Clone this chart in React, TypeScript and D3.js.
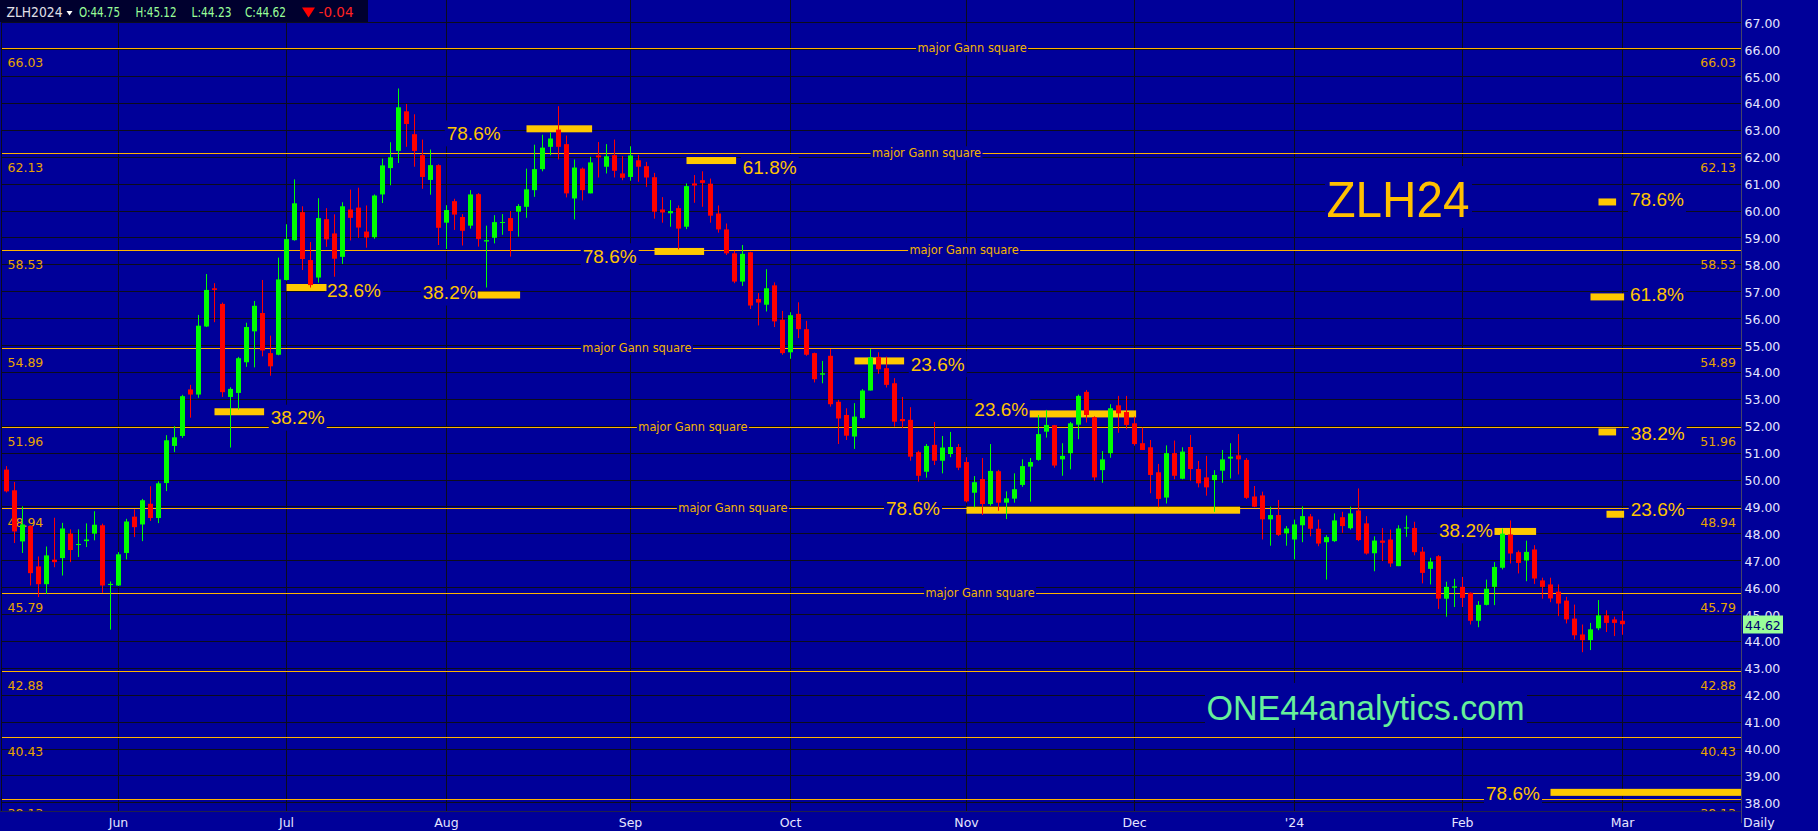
import React, { useEffect } from 'react';
import * as d3 from 'd3';

const W = 1818;
const H = 831;

// ---- OHLC data (one entry per trading day, May 11 2023 .. Mar 1 2024) ----
const opens = [50.37,49.60,47.70,48.27,46.77,46.11,47.02,47.08,47.99,47.59,47.71,47.99,48.30,46.08,46.06,47.27,48.62,48.33,49.10,48.57,
49.87,51.25,51.62,53.35,53.16,55.69,57.11,56.53,53.07,53.22,54.36,55.51,56.19,54.70,54.64,57.42,58.90,59.94,58.16,57.51,
59.68,59.15,58.28,60.04,60.11,59.22,59.01,60.60,61.58,62.22,63.69,62.84,62.06,61.14,61.69,59.55,60.35,59.76,59.44,60.61,
58.85,58.99,59.55,59.72,59.96,60.14,60.76,61.54,62.37,63.01,62.47,60.45,61.56,60.64,62.05,61.63,62.06,61.38,61.25,61.87,
61.65,61.24,60.04,59.90,60.09,59.40,61.01,61.13,61.00,59.89,59.30,58.41,57.36,58.45,56.71,56.50,57.22,55.94,54.73,56.16,
55.59,54.70,53.90,54.60,52.89,52.40,51.60,52.29,53.31,54.56,54.14,53.58,52.25,52.22,51.02,50.29,51.29,50.70,50.95,51.21,
50.65,49.51,50.02,49.09,50.31,49.14,49.29,49.80,50.48,50.73,51.78,52.02,50.75,50.98,52.04,53.26,52.32,50.35,50.98,52.76,
52.51,52.09,51.35,51.20,50.27,49.33,50.98,50.03,51.21,50.39,50.08,49.98,50.33,50.78,50.90,50.73,49.37,49.41,48.52,48.68,
48.00,47.77,48.30,48.63,48.17,47.67,47.71,48.60,48.19,48.85,48.37,47.26,47.73,47.77,46.78,48.18,48.20,47.32,46.68,47.15,
45.57,45.98,46.01,45.79,44.75,45.34,46.01,46.72,47.96,47.30,46.99,47.40,46.25,46.10,45.83,45.50,44.83,44.24,44.03,44.47,
44.95,44.80,44.75];
const highs = [50.50,49.91,49.00,48.30,47.14,47.51,48.58,48.39,48.15,48.15,48.37,48.82,48.36,46.21,47.30,48.54,48.89,49.28,49.75,49.93,
51.65,51.98,53.15,53.52,56.12,57.64,57.30,56.58,53.43,54.56,55.83,56.64,57.42,55.35,58.25,59.49,61.16,60.16,58.83,60.46,
60.09,59.86,60.31,60.78,60.85,60.19,60.60,61.93,62.54,64.54,63.96,63.58,62.64,62.27,61.72,60.20,60.44,59.87,60.76,60.65,
59.44,59.83,59.87,59.98,60.24,61.56,62.45,62.82,62.90,63.88,62.79,61.90,61.60,62.00,62.55,62.47,62.64,62.03,62.39,62.06,
61.81,61.40,60.50,60.39,60.19,61.01,61.32,61.46,61.19,60.19,59.52,58.51,58.72,58.47,56.93,57.82,57.33,56.27,56.22,56.59,
55.90,54.72,54.41,54.85,52.96,52.65,52.84,53.36,54.85,54.73,54.57,53.77,53.07,52.69,51.07,51.32,52.14,51.62,51.77,51.32,
50.83,50.13,50.80,51.32,50.36,49.56,50.23,50.75,50.80,52.40,52.59,52.03,51.35,52.14,53.16,53.33,52.35,51.06,52.80,53.11,
53.11,52.34,51.93,51.47,50.58,51.27,51.45,51.20,51.66,50.69,50.88,50.35,51.10,51.35,51.69,50.80,49.76,49.55,48.99,49.24,
48.27,48.51,49.00,48.72,48.51,47.93,48.74,48.80,48.99,49.67,48.64,47.89,48.20,48.14,48.30,48.66,48.43,47.49,47.09,47.19,
46.20,46.31,46.38,45.80,45.48,46.28,46.93,48.18,48.48,47.36,47.73,47.56,46.35,46.35,46.10,45.64,45.35,44.61,44.67,45.52,
45.14,44.90,45.12];
const lows = [49.52,47.64,47.27,46.06,45.63,45.75,46.74,46.43,46.93,47.12,47.49,47.74,45.79,44.42,46.04,47.03,47.86,47.71,48.46,48.38,
49.57,51.02,51.55,52.30,53.04,55.67,55.85,53.07,51.19,52.60,54.19,54.17,54.58,53.86,54.62,57.40,58.88,57.79,57.14,57.32,
58.65,57.54,58.02,58.89,58.99,58.62,58.95,60.28,60.94,61.77,62.37,61.63,60.81,60.59,58.72,58.57,59.28,58.70,59.33,58.66,
57.14,58.78,59.10,58.29,59.03,59.73,60.51,61.46,62.06,61.90,60.49,59.67,60.38,60.64,61.23,61.38,61.23,61.13,61.11,61.07,
60.88,59.70,59.55,59.40,58.56,59.31,60.29,60.14,59.55,59.18,58.35,57.30,57.20,56.34,55.73,56.25,55.67,54.64,54.49,55.26,
54.60,53.61,53.58,52.71,51.32,51.47,51.14,52.27,53.31,53.93,53.42,51.97,51.91,50.70,49.92,50.07,50.54,50.23,50.83,50.35,
49.15,48.97,48.68,49.03,48.84,48.53,49.14,49.73,49.18,50.70,51.56,50.44,50.14,50.38,51.50,52.12,49.96,49.88,50.81,51.74,
51.87,51.26,51.10,49.49,48.97,49.11,50.01,50.01,49.96,49.71,49.40,48.80,49.88,50.04,50.19,49.28,48.97,47.77,47.54,47.90,
47.54,47.03,47.67,47.89,47.52,46.28,47.68,48.02,48.14,47.71,47.21,46.59,46.97,46.75,46.78,47.87,47.18,46.14,46.10,45.19,
44.90,45.26,45.26,44.61,44.51,45.32,45.33,46.66,46.88,46.51,46.22,46.12,45.57,45.44,44.92,44.65,44.05,43.58,43.66,44.40,
44.33,44.18,44.23];
const closes = [49.56,48.07,48.33,46.52,46.11,47.18,46.93,48.18,47.38,47.62,47.77,48.32,46.06,46.12,47.22,48.44,48.23,49.23,48.57,49.86,
51.46,51.57,53.10,53.16,55.72,57.05,57.05,53.25,53.37,54.51,55.67,56.46,54.80,54.21,57.44,58.94,60.27,58.20,57.23,59.72,
58.93,58.21,60.16,59.73,59.37,59.00,60.56,61.68,61.98,63.84,63.22,62.22,61.25,61.69,59.36,60.02,59.85,59.25,60.60,58.94,
58.90,59.57,59.58,59.24,60.17,60.79,61.54,62.34,62.68,62.37,60.64,61.60,60.76,61.79,61.98,62.02,61.48,61.22,62.05,61.63,
61.23,59.96,59.93,59.98,59.33,60.91,60.93,61.03,59.81,59.30,58.41,57.36,58.39,56.47,56.58,57.11,55.88,54.70,56.11,55.59,
54.64,53.73,53.95,52.80,52.27,51.63,52.34,53.31,54.54,54.10,53.52,52.15,52.17,50.85,50.14,51.25,50.70,51.19,51.21,50.44,
49.19,49.90,49.09,50.32,49.14,49.30,49.64,50.50,50.65,51.69,52.03,50.52,50.88,52.09,53.11,52.40,50.08,50.75,52.65,52.46,
52.03,51.32,51.10,50.17,49.28,50.98,50.14,51.04,50.39,49.86,49.71,50.17,50.75,50.85,50.75,49.32,48.99,48.52,48.68,47.94,
48.18,48.33,48.64,48.17,47.62,47.86,48.48,48.27,48.74,47.75,47.25,47.73,47.65,46.88,48.18,48.22,47.30,46.53,46.95,45.57,
46.01,46.03,45.60,44.75,45.34,45.94,46.75,47.99,47.25,46.90,47.31,46.32,46.01,45.58,45.39,44.80,44.21,44.03,44.43,44.95,
44.67,44.67,44.62];

// ---- axis categories ----
const monthLabels = ['Jun', 'Jul', 'Aug', 'Sep', 'Oct', 'Nov', 'Dec', "'24", 'Feb', 'Mar'];
const monthBars = [14, 35, 55, 78, 98, 120, 141, 161, 182, 202];
const priceTicks = [38,39,40,41,42,43,44,45,46,47,48,49,50,51,52,53,54,55,56,57,58,59,60,61,62,63,64,65,66,67];

// ---- Gann square levels ----
const gannLevels = [66.03, 62.13, 58.53, 54.89, 51.96, 48.94, 45.79, 42.88, 40.43, 38.13];
const gannTagBars = [120.7, 115, 119.7, 78.8, 85.8, 90.8, 121.7, -1, -1, -1];

// ---- retracement markers (bar index range, price) ----
const markerStart = [35, 58.9, 26, 65, 85, 81, 106, 127.9, 120, 186, 199, 200, 199, 198, 193];
const markerEnd = [40, 64.2, 32.2, 73.2, 91.2, 87.2, 112.2, 141.2, 154.2, 191.2, 201.2, 202.2, 201.2, 202.2, 217];
const markerPrice = [57.14, 56.86, 52.52, 63.04, 61.86, 58.48, 54.41, 52.44, 48.86, 48.07, 51.77, 48.71, 60.32, 56.79, 38.37];

// ---- retracement labels (text, bar index of left edge, price) ----
const pctText = ['23.6%', '38.2%', '38.2%', '78.6%', '61.8%', '78.6%', '23.6%', '23.6%', '78.6%', '38.2%', '38.2%', '23.6%', '78.6%', '61.8%', '78.6%'];
const pctBar = [40.06, 52.03, 33.03, 55.03, 92.03, 72.03, 113.03, 120.98, 109.94, 179.06, 203.03, 203.03, 202.94, 202.94, 184.94];
const pctPrice = [57.01, 56.95, 52.30, 62.87, 61.60, 58.30, 54.29, 52.60, 48.94, 48.11, 51.73, 48.88, 60.41, 56.89, 38.31];

const BG = '#000099';
const GRID = '#0c0c1c';
const GANN = '#ffb300';
const PLOT_L = 2;
const PLOT_R = 1741;
const PLOT_B = 811;

export default function App() {
  useEffect(() => {
    document.body.style.margin = '0';
    document.body.style.background = BG;
  }, []);

  const xS = d3.scaleLinear().domain([0, 202]).range([6.5, 6.5 + 202 * 8]);
  const yS = d3.scaleLinear().domain([38, 67]).range([802.3, 22.3]);
  const crisp = (v: number) => Math.round(v) + 0.5;

  const sans = 'DejaVu Sans, Verdana, sans-serif';
  const arial = 'Liberation Sans, Arial, sans-serif';
  const last = closes.length - 1;

  return (
    <svg width={W} height={H} style={{ position: 'fixed', left: 0, top: 0, display: 'block' }}>
      <defs>
        <clipPath id="plot">
          <rect x={PLOT_L} y={0} width={PLOT_R - PLOT_L} height={PLOT_B} />
        </clipPath>
      </defs>
      <rect x={0} y={0} width={W} height={H} fill={BG} />

      <g clipPath="url(#plot)">
        {/* horizontal grid */}
        {priceTicks.map((t) => (
          <line key={'hg' + t} x1={PLOT_L} x2={PLOT_R} y1={crisp(yS(t))} y2={crisp(yS(t))} stroke={GRID} strokeWidth={1} />
        ))}
        {/* vertical grid */}
        {monthBars.map((b, k) => (
          <line key={'vg' + k} x1={xS(b)} x2={xS(b)} y1={0} y2={PLOT_B} stroke={GRID} strokeWidth={1} />
        ))}

        {/* Gann lines */}
        {gannLevels.map((g, k) => (
          <line key={'gl' + k} x1={PLOT_L} x2={PLOT_R} y1={crisp(yS(g))} y2={crisp(yS(g))} stroke={GANN} strokeWidth={1} />
        ))}
        {/* Gann values left/right */}
        {gannLevels.map((g, k) => (
          <g key={'gv' + k} fontFamily={sans} fontSize={12.5} fill="#e8a400">
            <text x={7.5} y={yS(g) + 14.5} dominantBaseline="central">{g.toFixed(2)}</text>
            <text x={1736} y={yS(g) + 14.5} dominantBaseline="central" textAnchor="end">{g.toFixed(2)}</text>
          </g>
        ))}
        {/* major Gann square tags */}
        {gannLevels.map((g, k) =>
          gannTagBars[k] >= 0 ? (
            <g key={'gt' + k}>
              <rect x={xS(gannTagBars[k]) - 56} y={yS(g) - 7} width={112} height={14} fill={BG} />
              <text x={xS(gannTagBars[k])} y={yS(g)} dominantBaseline="central" textAnchor="middle"
                fontFamily={sans} fontSize={11.4} fill="#f4b400">major Gann square</text>
            </g>
          ) : null
        )}

        {/* percent labels */}
        {pctText.map((t, k) => (
          <g key={'pl' + k}>
            <rect x={xS(pctBar[k]) - 2} y={yS(pctPrice[k]) - 13} width={58} height={26} fill={BG} />
            <text x={xS(pctBar[k])} y={yS(pctPrice[k])} dominantBaseline="central" fontFamily={arial}
              fontSize={19} fill="#ffc400">{t}</text>
          </g>
        ))}

        {/* big captions */}
        <rect x={1325} y={166} width={147} height={62} fill={BG} />
        <text x={1326.5} y={217.3} fontFamily={arial} fontSize={50} textLength={143} lengthAdjust="spacingAndGlyphs" fill="#ffc000">ZLH24</text>
        <rect x={1205} y={683} width={322} height={45} fill={BG} />
        <text x={1206.5} y={720} fontFamily={arial} fontSize={34.5} textLength={318} lengthAdjust="spacingAndGlyphs" fill="#66f09a">ONE44analytics.com</text>

        {/* markers */}
        {markerPrice.map((p, k) => (
          <rect key={'mk' + k} x={xS(markerStart[k])} y={yS(p) - 3.5}
            width={xS(markerEnd[k]) - xS(markerStart[k])} height={7} fill="#ffc800" />
        ))}

        {/* candles */}
        {opens.map((o, i) => {
          const c = closes[i];
          const up = c >= o;
          const col = up ? '#00ff00' : '#ff0000';
          const x = xS(i);
          const yT = yS(Math.max(o, c));
          const yB = yS(Math.min(o, c));
          const bh = Math.max(1, yB - yT);
          return (
            <g key={'c' + i}>
              <line x1={x} x2={x} y1={yS(highs[i])} y2={yS(lows[i])} stroke={col} strokeWidth={1} />
              <rect x={x - 2.5} y={bh === 1 ? Math.round(yT) : yT} width={5} height={bh} fill={col} />
            </g>
          );
        })}
      </g>

      {/* frame */}
      <line x1={1.5} x2={1.5} y1={0} y2={PLOT_B} stroke={GRID} strokeWidth={1} />
      <line x1={0} x2={PLOT_R} y1={PLOT_B + 0.5} y2={PLOT_B + 0.5} stroke="#20204a" strokeWidth={1} />
      <line x1={PLOT_R + 0.5} x2={PLOT_R + 0.5} y1={0} y2={PLOT_B + 12} stroke="#45456a" strokeWidth={1} />

      {/* right axis */}
      {priceTicks.map((t) => (
        <text key={'yt' + t} x={1744.5} y={yS(t) + 1} dominantBaseline="central" fontFamily={sans}
          fontSize={12.5} fill="#e6e6ff">{t.toFixed(2)}</text>
      ))}
      <rect x={1743} y={615.5} width={40} height={18} fill="#99ff99" />
      <text x={1745} y={yS(closes[last]) + 1} dominantBaseline="central" fontFamily={sans}
        fontSize={12.5} fill="#000070">{closes[last].toFixed(2)}</text>

      {/* month axis */}
      {monthLabels.map((m, k) => (
        <text key={'mx' + k} x={xS(monthBars[k])} y={822.5} dominantBaseline="central" textAnchor="middle"
          fontFamily={sans} fontSize={12.5} fill="#e6e6ff">{m}</text>
      ))}
      <text x={1743} y={822.5} dominantBaseline="central" fontFamily={sans} fontSize={12.5} fill="#e6e6ff">Daily</text>

      {/* header */}
      <rect x={0} y={0} width={368} height={22} fill="#00002e" />
      <g fontFamily={sans} fontSize={13.5}>
        <text x={6.5} y={16.5} fill="#e0e0e8" textLength={56} lengthAdjust="spacingAndGlyphs">ZLH2024</text>
        <polygon points="66.5,11 72.5,11 69.5,15.5" fill="#ffffff" />
        <text x={79} y={16.5} fill="#99ff99" textLength={41} lengthAdjust="spacingAndGlyphs">O:44.75</text>
        <text x={135.5} y={16.5} fill="#99ff99" textLength={41} lengthAdjust="spacingAndGlyphs">H:45.12</text>
        <text x={191.5} y={16.5} fill="#99ff99" textLength={40} lengthAdjust="spacingAndGlyphs">L:44.23</text>
        <text x={245} y={16.5} fill="#99ff99" textLength={41} lengthAdjust="spacingAndGlyphs">C:44.62</text>
        <polygon points="302,7.5 315,7.5 308.5,17.5" fill="#ff0000" />
        <text x={318.5} y={16.5} fill="#ff2020" textLength={35} lengthAdjust="spacingAndGlyphs">-0.04</text>
      </g>
    </svg>
  );
}
